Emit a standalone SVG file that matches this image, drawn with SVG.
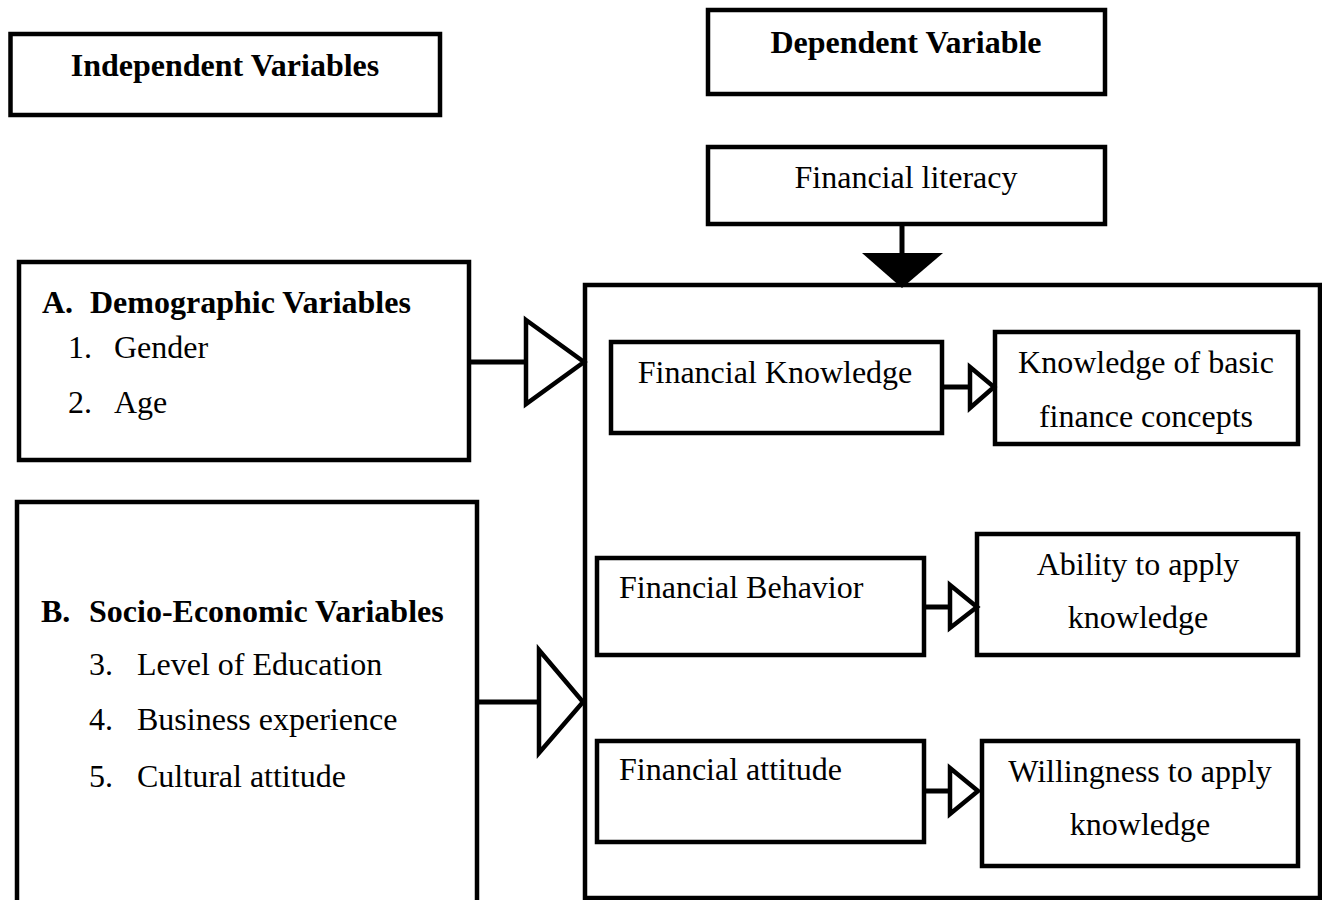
<svg xmlns="http://www.w3.org/2000/svg" width="1322" height="900" viewBox="0 0 1322 900">
<style>
.box{fill:none;stroke:#000;stroke-width:4.5}
.t{font-family:"Liberation Serif","Times New Roman",serif;font-size:32px;fill:#000}
.b{font-weight:bold}
.m{text-anchor:middle}
.ln{stroke:#000;stroke-width:5;fill:none}
.hol{fill:#fff;stroke:#000;stroke-width:4.5;stroke-linejoin:miter}
</style>
<rect width="1322" height="900" fill="#fff"/>
<g id="independent-header">
<rect class="box" x="10.5" y="34" width="429.5" height="81"/>
<text class="t b m" x="225" y="76">Independent Variables</text>
</g>
<g id="dependent-header">
<rect class="box" x="708" y="10" width="397" height="84"/>
<text class="t b m" x="906" y="53">Dependent Variable</text>
</g>
<g id="financial-literacy">
<rect class="box" x="708" y="147" width="397" height="77"/>
<text class="t m" x="906" y="188">Financial literacy</text>
</g>
<g id="dependent-container">
<rect class="box" x="585" y="285" width="735" height="613"/>
</g>
<g id="demographic">
<rect class="box" x="19" y="262" width="450" height="198"/>
<text class="t b" x="42" y="313">A.</text>
<text class="t b" x="90" y="313">Demographic Variables</text>
<text class="t" x="68" y="358">1.</text>
<text class="t" x="114" y="358">Gender</text>
<text class="t" x="68" y="413">2.</text>
<text class="t" x="114" y="413">Age</text>
</g>
<g id="socio-economic">
<rect class="box" x="17" y="502" width="460" height="420"/>
<text class="t b" x="41" y="622">B.</text>
<text class="t b" x="89" y="622">Socio-Economic Variables</text>
<text class="t" x="89" y="675">3.</text>
<text class="t" x="137" y="675">Level of Education</text>
<text class="t" x="89" y="730">4.</text>
<text class="t" x="137" y="730">Business experience</text>
<text class="t" x="89" y="787">5.</text>
<text class="t" x="137" y="787">Cultural attitude</text>
</g>
<g id="financial-knowledge">
<rect class="box" x="611" y="342" width="331" height="91"/>
<text class="t m" x="775" y="383">Financial Knowledge</text>
</g>
<g id="basic-concepts">
<rect class="box" x="995" y="332" width="303" height="112"/>
<text class="t m" x="1146" y="373">Knowledge of basic</text>
<text class="t m" x="1146" y="427">finance concepts</text>
</g>
<g id="financial-behavior">
<rect class="box" x="597" y="558" width="327" height="97"/>
<text class="t" x="619" y="598">Financial Behavior</text>
</g>
<g id="ability">
<rect class="box" x="977" y="534" width="321" height="121"/>
<text class="t m" x="1138" y="575">Ability to apply</text>
<text class="t m" x="1138" y="628">knowledge</text>
</g>
<g id="financial-attitude">
<rect class="box" x="597" y="741" width="327" height="101"/>
<text class="t" x="619" y="780">Financial attitude</text>
</g>
<g id="willingness">
<rect class="box" x="982" y="741" width="316" height="125"/>
<text class="t m" x="1140" y="782">Willingness to apply</text>
<text class="t m" x="1140" y="835">knowledge</text>
</g>
<g id="connectors">
<line class="ln" x1="902" y1="224" x2="902" y2="256" stroke-width="6"/>
<polygon points="862,253 943,253 902,288" fill="#000"/>
<line class="ln" x1="469" y1="362" x2="526" y2="362"/>
<polygon class="hol" points="526,320 584,362 526,404"/>
<line class="ln" x1="477" y1="702" x2="539" y2="702"/>
<polygon class="hol" points="539,650 583,702 539,753"/>
<line class="ln" x1="942" y1="387" x2="970" y2="387"/>
<polygon class="hol" points="970,367 994,387 970,408"/>
<line class="ln" x1="924" y1="607" x2="950" y2="607"/>
<polygon class="hol" points="950,585 977,607 950,628"/>
<line class="ln" x1="924" y1="791" x2="950" y2="791"/>
<polygon class="hol" points="950,768 978,791 950,814"/>
</g>
</svg>
